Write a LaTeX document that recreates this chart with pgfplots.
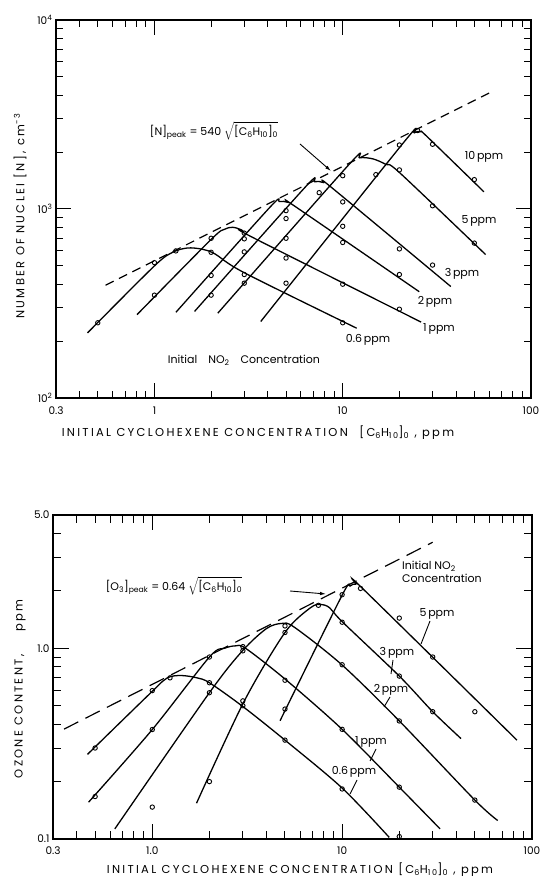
\documentclass[border=0pt]{standalone}
\usepackage{fontspec}
\setmainfont{Poppins}
\newfontfamily\lab[LetterSpace=20]{Poppins}
\usepackage{pgfplots}
\pgfplotsset{compat=1.18}
\usetikzlibrary{arrows.meta}
\pgfplotsset{
  crv/.style={black, no marks, smooth, tension=0.5, line width=1.3pt},
  pts/.style={black, only marks, mark=o, mark size=2.2pt, mark options={line width=0.9pt}},
  tkp/.style={black, no marks, line width=1pt, forget plot},
}
\begin{document}
\begin{tikzpicture}
\path (0pt,0pt) rectangle (542pt,882pt);
% ---------------- top plot ----------------
\begin{axis}[at={(56pt,484pt)}, anchor=south west, scale only axis, width=475pt, height=378pt,
  xmode=log, ymode=log,
  xmin=0.3, xmax=100, ymin=100, ymax=10000,
  xtick={0.3,1,10,100}, xticklabels={0.3,1,10,100},
  ytick={100,1000,10000},
  yticklabels={10\textsuperscript{2},10\textsuperscript{3},10\textsuperscript{4}},
  major tick length=0pt, minor tick length=0pt,
  axis line style={line width=1.5pt},
  ticklabel style={font=\fontsize{10.5}{12}\selectfont},
  xticklabel style={yshift=-5pt}]
\pgfplotsinvokeforeach{0.4,0.5,0.6,0.7,0.8,0.9,2,3,4,5,6,7,8,9,20,30,40,50,60,70,80,90}{
  \addplot[tkp] coordinates {(#1,100) (#1,108.9)};
  \addplot[tkp] coordinates {(#1,10000) (#1,9183)};
}
\pgfplotsinvokeforeach{1,10}{
  \addplot[tkp] coordinates {(#1,100) (#1,120)};
  \addplot[tkp] coordinates {(#1,10000) (#1,8333)};
}
\pgfplotsinvokeforeach{200,300,400,500,600,700,800,900,2000,3000,4000,5000,6000,7000,8000,9000}{
  \addplot[tkp] coordinates {(0.3,#1) (0.3267,#1)};
  \addplot[tkp] coordinates {(100,#1) (91.8,#1)};
}
\addplot[tkp] coordinates {(0.3,1000) (0.3603,1000)};
\addplot[tkp] coordinates {(100,1000) (83.3,1000)};
\addplot[black, line width=1.2pt, dash pattern=on 9pt off 6pt] coordinates {(0.55,395) (60,4110)};
\addplot[crv] coordinates {(0.441,221) (1.0,500) (1.25,590) (1.5,622) (1.8,612) (2.1,578) (3.0,460) (11.86,234)};
\addplot[crv] coordinates {(0.808,276) (2.0,690) (2.35,780) (2.6,800) (2.9,775) (3.3,710) (26.1,252)};
\addplot[crv] coordinates {(1.30,284) (4.1,1020) (4.6,1095) (5.1,1085) (5.6,1030) (25.5,365)};
\addplot[crv] coordinates {(1.633,287) (6.3,1300) (7.1,1395) (7.9,1380) (8.8,1290) (37.5,389)};
\addplot[crv] coordinates {(2.17,281) (10.8,1720) (12.3,1865) (14.5,1840) (17,1720) (20,1560) (57.4,574)};
\addplot[crv] coordinates {(3.67,254) (21,2240) (24,2530) (26,2560) (28,2420) (56.2,1233)};
\addplot[pts] coordinates {(0.5,250) (1,350) (1,520) (1.3,600) (2,700) (2,590) (2,445) (2,350)
  (3,745) (3,695) (3,593) (3,450) (3,405) (5,980) (5,890) (5,700) (5,550) (5,405) (7.5,1220)
  (10,1500) (10,1090) (10,810) (10,665) (10,400) (10,250) (15,1520) (20,2180) (20,1610)
  (20,615) (20,450) (20,295) (25,2600) (30,2200) (30,1040) (30,505) (50,1430) (50,660)};
\end{axis}
% ---------------- bottom plot ----------------
\begin{axis}[at={(53pt,43pt)}, anchor=south west, scale only axis, width=479pt, height=324pt,
  xmode=log, ymode=log,
  xmin=0.3, xmax=100, ymin=0.1, ymax=5,
  xtick={0.3,1,10,100}, xticklabels={0.3,1.0,10,100},
  ytick={0.1,1,5}, yticklabels={0.1,1.0,5.0},
  major tick length=0pt, minor tick length=0pt,
  axis line style={line width=1.5pt},
  ticklabel style={font=\fontsize{10.5}{12}\selectfont},
  xticklabel style={yshift=-4pt}]
\pgfplotsinvokeforeach{0.4,0.5,0.6,0.7,0.8,0.9,2,3,4,5,6,7,8,9,20,30,40,50,60,70,80,90}{
  \addplot[tkp] coordinates {(#1,0.1) (#1,0.1101)};
  \addplot[tkp] coordinates {(#1,5) (#1,4.54)};
}
\pgfplotsinvokeforeach{1,10}{
  \addplot[tkp] coordinates {(#1,0.1) (#1,0.1198)};
  \addplot[tkp] coordinates {(#1,5) (#1,4.174)};
}
\pgfplotsinvokeforeach{0.2,0.3,0.4,0.5,0.6,0.7,0.8,0.9,2,3,4}{
  \addplot[tkp] coordinates {(0.3,#1) (0.3306,#1)};
  \addplot[tkp] coordinates {(100,#1) (90.74,#1)};
}
\addplot[tkp] coordinates {(0.3,1) (0.3643,1)};
\addplot[tkp] coordinates {(100,1) (82.35,1)};
\addplot[black, line width=1.2pt, dash pattern=on 16pt off 8pt] coordinates {(0.343,0.377) (30,3.6)};
\addplot[crv] coordinates {(0.456,0.278) (1.0,0.595) (1.2,0.70) (1.42,0.72) (1.72,0.70) (2,0.66) (3,0.495) (5,0.33) (10,0.185) (17.7,0.102)};
\addplot[crv] coordinates {(0.462,0.156) (1,0.375) (2,0.90) (2.4,1.00) (2.75,1.03) (3.1,1.0) (5,0.69) (10,0.376) (20,0.187) (32.8,0.113)};
\addplot[crv] coordinates {(0.635,0.113) (2,0.585) (3,0.975) (4.0,1.27) (4.8,1.35) (5.6,1.29) (10,0.817) (20,0.416) (50,0.16) (66,0.125)};
\addplot[crv] coordinates {(1.71,0.154) (3.04,0.525) (5,1.21) (6.8,1.63) (7.7,1.70) (8.6,1.63) (10,1.38) (20,0.715) (30,0.465) (42.3,0.336)};
\addplot[crv] coordinates {(4.71,0.417) (10,1.90) (11.0,2.12) (11.8,2.17) (13,2.03) (83.3,0.33)};
\addplot[pts] coordinates {(0.5,0.30) (0.5,0.167) (1,0.60) (1,0.375) (1,0.147) (1.24,0.70)
  (2,0.90) (2,0.66) (2,0.585) (2,0.20) (3,1.02) (3,0.97) (3,0.53) (3,0.50) (5,1.31) (5,1.21)
  (5,0.68) (5,0.48) (5,0.33) (7.5,1.68) (10,1.91) (10,1.37) (10,0.82) (10,0.376) (10,0.183)
  (12.5,2.06) (20,1.44) (20,0.715) (20,0.416) (20,0.187) (20,0.103) (30,0.90) (30,0.465)
  (50,0.16) (50,0.465)};
\end{axis}
% ---------------- annotations top ----------------
\begin{scope}[font=\fontsize{11}{13}\selectfont]
\node at (214pt,751pt) {[N]\textsubscript{peak} = 540 $\sqrt{\mbox{[C\textsubscript{6}H\textsubscript{10}]\textsubscript{0}}}$};
\draw[line width=0.9pt,-{Latex[length=6pt,width=3.5pt]}] (300pt,738pt) -- (331pt,711pt);
\node at (484pt,725pt) {10\,ppm};
\node at (479pt,661pt) {5\,ppm};
\node at (462pt,608pt) {3\,ppm};
\node at (435pt,580pt) {2\,ppm};
\node at (439pt,553pt) {1\,ppm};
\node at (368pt,542pt) {0.6\,ppm};
\node at (244pt,522pt) {Initial\quad NO\textsubscript{2}\quad Concentration};
\node[rotate=90, font=\fontsize{11.5}{13}\selectfont] at (20pt,666pt) {\lab NUMBER OF NUCLEI [N], cm\textsuperscript{-3}};
\node[font=\fontsize{11.5}{13}\selectfont] at (258pt,449pt) {\lab INITIAL CYCLOHEXENE CONCENTRATION\quad [C\textsubscript{6}H\textsubscript{10}]\textsubscript{0} , ppm};
% ---------------- annotations bottom ----------------
\node at (174pt,296pt) {[O\textsubscript{3}]\textsubscript{peak} = 0.64 $\sqrt{\mbox{[C\textsubscript{6}H\textsubscript{10}]\textsubscript{0}}}$};
\draw[line width=0.9pt,-{Latex[length=6pt,width=3.5pt]}] (290pt,291pt) -- (326pt,288pt);
\node[anchor=north west, align=left, inner sep=0pt] at (402pt,321pt) {Initial NO\textsubscript{2}\\Concentration};
\node at (437pt,268pt) {5\,ppm};
\draw[line width=0.9pt] (430pt,261pt) -- (421pt,238pt);
\node at (397pt,229pt) {3\,ppm};
\draw[line width=0.9pt] (393pt,222pt) -- (391pt,208pt);
\node at (391pt,192pt) {2\,ppm};
\draw[line width=0.9pt] (390pt,185pt) -- (384pt,175pt);
\node at (371pt,140pt) {1\,ppm};
\draw[line width=0.9pt] (376pt,133pt) -- (370pt,121pt);
\node at (354pt,110pt) {0.6\,ppm};
\draw[line width=0.9pt] (357pt,102pt) -- (350pt,88pt);
\node[rotate=90, font=\fontsize{11.5}{13}\selectfont] at (20pt,193pt) {\lab OZONE CONTENT,\qquad ppm};
\node[font=\fontsize{11.5}{13}\selectfont] at (300pt,12pt) {\lab INITIAL CYCLOHEXENE CONCENTRATION [C\textsubscript{6}H\textsubscript{10}]\textsubscript{0} , ppm};
\end{scope}
\end{tikzpicture}
\end{document}
